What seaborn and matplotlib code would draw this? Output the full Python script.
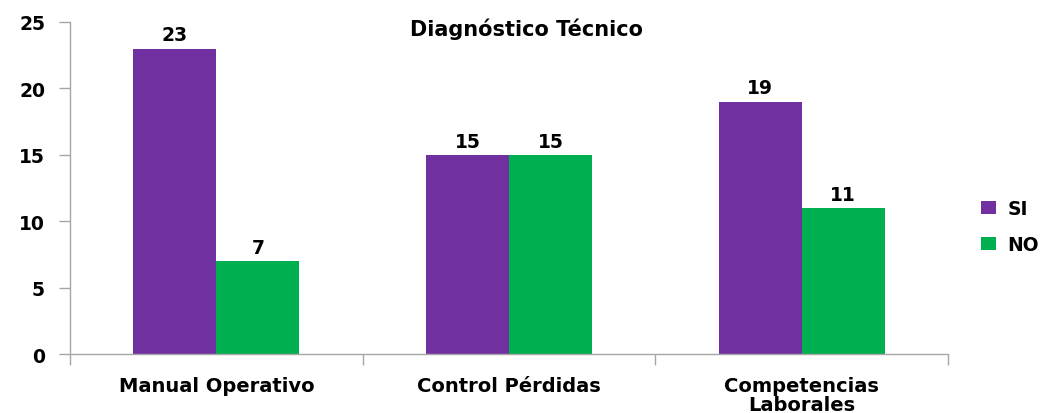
import matplotlib
matplotlib.use("Agg")
import matplotlib.pyplot as plt
import seaborn as sns
import pandas as pd
from matplotlib.patches import Patch

categories = ["Manual Operativo", "Control Pérdidas", "Competencias\nLaborales"]
series = ["SI", "NO"]
si_values = [23, 15, 19]
no_values = [7, 15, 11]
colors = {"SI": "#7030A0", "NO": "#00B050"}

df = pd.DataFrame({
    "cat": categories * 2,
    "serie": ["SI"] * 3 + ["NO"] * 3,
    "val": si_values + no_values,
})

sns.set_theme(style="white")
plt.rcParams['font.family'] = ['DejaVu Sans']
plt.rcParams['text.color'] = 'black'
plt.rcParams['xtick.color'] = 'black'
plt.rcParams['ytick.color'] = 'black'

fig = plt.figure(figsize=(10.47, 4.14), dpi=100)
ax = fig.add_axes([0.0669, 0.1425, 0.8385, 0.802])

sns.barplot(data=df, x="cat", y="val", hue="serie", palette=colors,
            width=0.567, saturation=1, ax=ax, legend=False, errorbar=None,
            linewidth=0, edgecolor="none")

for c in ax.containers:
    ax.bar_label(c, fmt="%d", padding=3, fontsize=13.5, fontweight="bold", color="black")

ax.set_xlim(-0.5, 2.5)
ax.set_ylim(0, 25)
ax.set_yticks([0, 5, 10, 15, 20, 25])
ax.set_xlabel("")
ax.set_ylabel("")
for s in ["top", "right"]:
    ax.spines[s].set_visible(False)
for s in ["left", "bottom"]:
    ax.spines[s].set_color("#A6A6A6")
    ax.spines[s].set_linewidth(1.0)

ax.tick_params(axis="y", which="major", length=8, color="#A6A6A6", width=1,
               labelsize=13.5, pad=10, left=True, labelcolor="black")
for lbl in ax.get_yticklabels():
    lbl.set_fontweight("bold")
ax.tick_params(axis="x", which="major", length=0, labelsize=14, pad=16, labelcolor="black")
for lbl in ax.get_xticklabels():
    lbl.set_fontweight("bold")
    lbl.set_linespacing(1.0)
ax.set_xticks([-0.5, 0.5, 1.5, 2.5], minor=True)
ax.tick_params(axis="x", which="minor", length=8, color="#A6A6A6", width=1, bottom=True)

fig.text(526 / 1047, 1 - 29 / 414, "Diagnóstico Técnico", ha="center", va="center",
         fontsize=15, fontweight="bold", color="black")

handles = [Patch(facecolor=colors[s], edgecolor="none", label=s) for s in series]
leg = fig.legend(handles=handles, loc="center left", bbox_to_anchor=(0.921, 0.45),
                 frameon=False, prop={"weight": "bold", "size": 13.5},
                 handlelength=0.8, handleheight=0.7, labelspacing=0.9, handletextpad=0.6)
for t in leg.get_texts():
    t.set_color("black")

fig.savefig("out.png", dpi=100)
